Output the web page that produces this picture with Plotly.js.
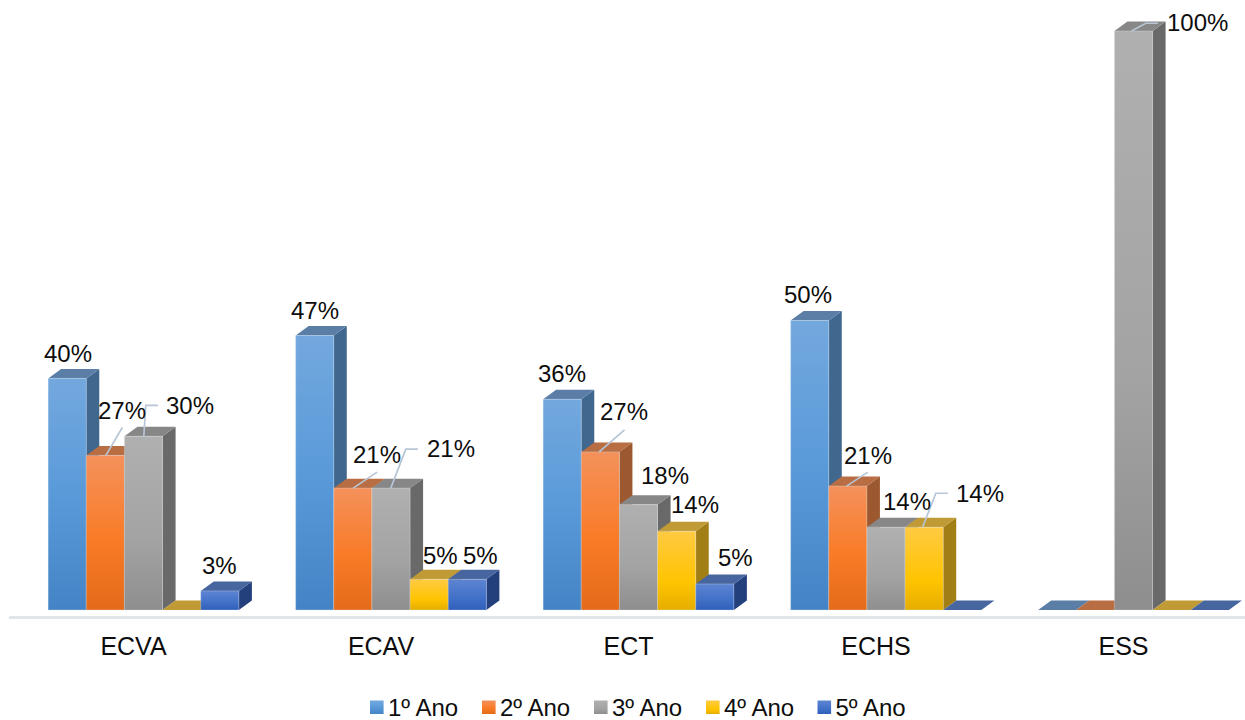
<!DOCTYPE html>
<html>
<head>
<meta charset="utf-8">
<script src="https://cdn.plot.ly/plotly-3.0.1.min.js"></script>
<style>html,body{margin:0;padding:0;background:#fff;}#chart{width:1245px;height:720px;}</style>
</head>
<body>
<div id="chart"></div>
<script>
// ---- data -------------------------------------------------------------
const categories = ["ECVA", "ECAV", "ECT", "ECHS", "ESS"];
const seriesNames = ["1º Ano", "2º Ano", "3º Ano", "4º Ano", "5º Ano"];
const ano1 = [40, 47.4, 36.4, 50, 0];
const ano2 = [26.7, 21.05, 27.3, 21.4, 0];
const ano3 = [30, 21.05, 18.2, 14.3, 100];
const ano4 = [0, 5.3, 13.6, 14.3, 0];
const ano5 = [3.3, 5.3, 4.5, 0, 0];
const allSeries = [ano1, ano2, ano3, ano4, ano5];
const labels1 = ["40%", "47%", "36%", "50%", ""];
const labels2 = ["27%", "21%", "27%", "21%", ""];
const labels3 = ["30%", "21%", "18%", "14%", "100%"];
const labels4 = ["", "5%", "14%", "14%", ""];
const labels5 = ["3%", "5%", "5%", "", ""];
const allLabels = [labels1, labels2, labels3, labels4, labels5];

// ---- styling ----------------------------------------------------------
const gradients = [
  [["0%", "#73a8de"], ["50%", "#5a9ad9"], ["100%", "#4484c6"]],
  [["0%", "#f4915b"], ["55%", "#f97b27"], ["100%", "#e36b1a"]],
  [["0%", "#b0b0b0"], ["60%", "#a3a3a3"], ["100%", "#8e8e8e"]],
  [["0%", "#ffca42"], ["65%", "#ffc400"], ["100%", "#e5ad00"]],
  [["0%", "#5d84d2"], ["60%", "#4271c8"], ["100%", "#2f5fba"]]
];
const sideColors = ["#40688f", "#9c582e", "#696969", "#a27f14", "#233f7c"];
const topColors = ["#5a7ea6", "#b86d43", "#878787", "#c09a35", "#47659e"];
const FONT = "Liberation Sans, Arial, sans-serif";
const TEXT = "#0d0d0d";
const LEADER = "#b7c5d6";

// ---- geometry of the pictured axes -------------------------------------
const PX_X = 247.5, PX_Y = 5.8;             // pixels per category / per percent
const TICK0 = 133.5;                        // pixel of the first tick label
const GROUP_SHIFT = 10 / PX_X;              // bars sit right of the tick labels
const BAR_W = 38.15 / PX_X;
const DEPTH_X = 13 / PX_X, DEPTH_Y = 9.5 / PX_Y;
const xCentre = (g, s) => g + GROUP_SHIFT + (s - 2) * BAR_W;

// label offset from the top centre of the front face, in pixels [series][group]
const labelOffsets = [
  [[0.6, -25], [0, -25], [-0.5, -26], [-2, -26], null],
  [[16.5, -45], [24, -34], [24, -40], [20, -31], null],
  [[46, -31], [60, -40], [26.5, -29], [20.5, -26], [64, -8]],
  [null, [11, -24], [18.5, -27], [56, -34], null],
  [[0, -25], [13, -24], [20.5, -26], null, null]
];
// leader lines: offset points from the top centre of the front face, in pixels
const leaders = [
  {s: 1, g: 0, pts: [[0.5, 0], [17, -28]]},
  {s: 2, g: 0, pts: [[0.3, 0], [2.3, -31], [14.3, -31]]},
  {s: 1, g: 1, pts: [[0.3, 0], [24.3, -16]]},
  {s: 2, g: 1, pts: [[-0.2, 0], [14.8, -39], [26.8, -39]]},
  {s: 1, g: 2, pts: [[-1.2, 0], [24.2, -22]]},
  {s: 1, g: 3, pts: [[-1.3, 0], [20, -14]]},
  {s: 3, g: 3, pts: [[-1.6, 0], [11.7, -34], [23.7, -34]]},
  {s: 2, g: 4, pts: [[-2, 0], [12.3, -7.7], [24.3, -7.7]]}
];

// ---- traces -----------------------------------------------------------
const traces = [];
const polyTrace = (xs, ys, color) => ({
  type: "scatter", mode: "lines", x: xs, y: ys, fill: "toself", fillcolor: color,
  line: {width: 0, color: color}, hoverinfo: "skip", showlegend: false,
  xaxis: "x", yaxis: "y"
});
// side faces lie behind the top faces
allSeries.forEach((vals, s) => {
  const xs = [], ys = [];
  vals.forEach((v, g) => {
    if (v <= 0) return;
    const r = xCentre(g, s) + BAR_W / 2;
    xs.push(r, r + DEPTH_X, r + DEPTH_X, r, r, null);
    ys.push(0, DEPTH_Y, v + DEPTH_Y, v, 0, null);
  });
  traces.push(polyTrace(xs, ys, sideColors[s]));
});
allSeries.forEach((vals, s) => {
  const xs = [], ys = [];
  vals.forEach((v, g) => {
    const l = xCentre(g, s) - BAR_W / 2, r = l + BAR_W;
    xs.push(l, r, r + DEPTH_X, l + DEPTH_X, l, null);
    ys.push(v, v, v + DEPTH_Y, v + DEPTH_Y, v, null);
  });
  traces.push(polyTrace(xs, ys, topColors[s]));
});
// front faces, on an overlaid y axis so that they stay above the polygons
allSeries.forEach((vals, s) => {
  traces.push({
    type: "bar", name: seriesNames[s],
    x: categories.map((c, g) => g + GROUP_SHIFT), y: vals,
    customdata: categories, hovertemplate: "%{customdata}: %{y}%<extra>" + seriesNames[s] + "</extra>",
    marker: {color: gradients[s][1][1],
             line: {color: "rgba(225,235,245,0.3)", width: vals.map(v => v > 0 ? 1 : 0)}},
    xaxis: "x", yaxis: "y2"
  });
});
leaders.forEach(ld => {
  const v = allSeries[ld.s][ld.g], c = xCentre(ld.g, ld.s);
  traces.push({
    type: "scatter", mode: "lines",
    x: ld.pts.map(p => c + p[0] / PX_X), y: ld.pts.map(p => v - p[1] / PX_Y),
    line: {color: LEADER, width: 1.7}, hoverinfo: "skip", showlegend: false,
    xaxis: "x", yaxis: "y2"
  });
});

const annotations = [];
allLabels.forEach((row, s) => row.forEach((txt, g) => {
  if (!txt) return;
  const off = labelOffsets[s][g];
  annotations.push({
    x: xCentre(g, s), y: allSeries[s][g], xref: "x", yref: "y2", text: txt, showarrow: false,
    xanchor: "center", yanchor: "middle", xshift: off[0], yshift: -off[1],
    font: {family: FONT, size: 24, color: TEXT}, borderpad: 0
  });
}));

const yRange = [-6 / PX_Y, 611 / PX_Y];
const layout = {
  width: 1245, height: 720,
  margin: {l: 9, r: 0, t: 0, b: 103, pad: 0},
  paper_bgcolor: "#fff", plot_bgcolor: "#fff",
  barmode: "group", bargap: 1 - 5 * BAR_W, bargroupgap: 0,
  showlegend: true,
  legend: {orientation: "h", x: 0, xanchor: "left", y: -0.095, yanchor: "top",
           font: {family: FONT, size: 24, color: TEXT}, traceorder: "normal",
           bgcolor: "rgba(0,0,0,0)"},
  xaxis: {
    range: [(9 - TICK0) / PX_X, (1245 - TICK0) / PX_X], tickvals: categories.map((c, i) => i),
    ticktext: categories, showgrid: false, zeroline: false, showline: true,
    linecolor: "#e2e5ea", linewidth: 2.5, ticks: "", ticklabelstandoff: 6,
    tickfont: {family: FONT, size: 25, color: TEXT}, fixedrange: true
  },
  yaxis: {range: yRange, visible: false, showgrid: false, zeroline: false, fixedrange: true},
  yaxis2: {range: yRange, visible: false, overlaying: "y", showgrid: false, zeroline: false, fixedrange: true},
  annotations: annotations
};

// legend item positions in the page, in pixels
const legendSwatchX = [370, 482, 594, 706, 817.5];
const legendTextGap = 18;
const legendCentreY = 706.5;

Plotly.newPlot("chart", traces, layout, {displayModeBar: false, responsive: false}).then(gd => {
  const NS = "http://www.w3.org/2000/svg";
  const svg = gd.querySelector("svg.main-svg");
  const defs = document.createElementNS(NS, "defs");
  gradients.forEach((stops, i) => {
    const lg = document.createElementNS(NS, "linearGradient");
    lg.setAttribute("id", "faceGrad" + i);
    lg.setAttribute("x1", "0"); lg.setAttribute("y1", "0");
    lg.setAttribute("x2", "0"); lg.setAttribute("y2", "1");
    stops.forEach(st => {
      const e = document.createElementNS(NS, "stop");
      e.setAttribute("offset", st[0]); e.setAttribute("stop-color", st[1]);
      lg.appendChild(e);
    });
    defs.appendChild(lg);
  });
  svg.insertBefore(defs, svg.firstChild);
  gd.querySelectorAll(".barlayer .trace.bars").forEach((tr, i) => {
    tr.querySelectorAll(".point path").forEach(p => { p.style.fill = "url(#faceGrad" + i + ")"; });
  });
  const legend = gd.querySelector(".legend");
  const m = /translate\(\s*([-\d.]+)[ ,]+([-\d.]+)/.exec(legend.getAttribute("transform"));
  const lx = parseFloat(m[1]), ly = parseFloat(m[2]);
  const box = legend.querySelector(".scrollbox");
  if (box) box.removeAttribute("clip-path");
  legend.removeAttribute("clip-path");
  gd.querySelectorAll(".legend .traces").forEach((item, i) => {
    item.setAttribute("transform", "translate(" + (legendSwatchX[i] - lx) + "," + (legendCentreY - ly) + ")");
    const sw = item.querySelector(".legendpoints path");
    if (sw) {
      sw.setAttribute("d", "M0,-6H13.6V7.5H0Z");
      sw.setAttribute("transform", "translate(0,0)");
      sw.style.fill = "url(#faceGrad" + i + ")";
      sw.style.stroke = "none";
    }
    const t = item.querySelector(".legendtext");
    t.setAttribute("x", legendTextGap);
    t.querySelectorAll("tspan").forEach(ts => { if (ts.getAttribute("x")) ts.setAttribute("x", legendTextGap); });
  });
});
</script>
</body>
</html>
